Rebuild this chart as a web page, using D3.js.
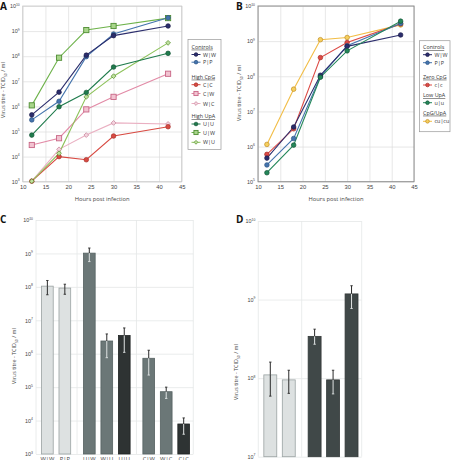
<!DOCTYPE html>
<html>
<head>
<meta charset="utf-8">
<script src="https://cdn.jsdelivr.net/npm/d3@7"></script>
<style>
  body { margin: 0; background: #fff; }
  svg { display: block; font-family: "Open Sans", "Liberation Sans", sans-serif; }
</style>
</head>
<body>
<div id="chart"></div>
<script>
// ---- data ----
var hours = [12, 18, 24, 30, 42];

// panel A
var aWW = [4.6e5, 3.7e6, 1.1e8, 6.6e8, 1.6e9];
var aPP = [2.9e5, 1.6e6, 9.6e7, 7.6e8, 3.4e9];
var aCC = [1.05e3, 1.0e4, 7.5e3, 6.6e4, 1.55e5];
var aCW = [2.9e4, 5.4e4, 7.6e5, 2.4e6, 2.0e7];
var aWC = [1.05e3, 1.95e4, 7.2e4, 2.2e5, 2.0e5];
var aUU = [7.2e4, 9.7e5, 3.6e6, 3.7e7, 1.3e8];
var aUW = [1.1e6, 8.7e7, 1.1e9, 1.6e9, 3.3e9];
var aWU = [1.05e3, 1.35e4, 2.4e6, 1.6e7, 3.4e8];

// panel B
var bWW = [4.7e5, 3.6e6, 1.07e8, 7.1e8, 1.5e9];
var bPP = [3.0e5, 1.7e6, 9.8e7, 7.4e8, 3.2e9];
var bcc = [6.0e5, 3.2e6, 3.4e8, 9.1e8, 3.1e9];
var buu = [1.8e5, 1.1e6, 9.4e7, 5.3e8, 3.7e9];
var bcucu = [1.15e6, 4.3e7, 1.1e9, 1.27e9, 2.9e9];

// panel C
var cLabels = ["W|W", "P|P", "U|W", "W|U", "U|U", "C|W", "W|C", "C|C"];
var cGroup = [0, 0, 1, 1, 1, 2, 2, 2];
var cKind = ["control", "control", "half", "half", "full", "half", "half", "full"];
var cMean = [1.05e8, 9.2e7, 1.02e9, 2.4e6, 3.5e6, 7.3e5, 7.3e4, 7.9e3];
var cHigh = [1.55e8, 1.2e8, 1.45e9, 3.9e6, 5.9e6, 1.27e6, 1.0e5, 1.2e4];
var cLow = [5.8e7, 6.0e7, 5.7e8, 7.6e5, 1.1e6, 2.3e5, 4.6e4, 3.9e3];

// panel D
var dLabels = ["W|W", "P|P", "c|c", "u|u", "cu|cu"];
var dGroup = [0, 0, 1, 1, 1];
var dKind = ["control", "control", "fullD", "fullD", "fullD"];
var dMean = [1.1e8, 9.5e7, 3.4e8, 9.5e7, 1.18e9];
var dHigh = [1.6e8, 1.26e8, 4.2e8, 1.26e8, 1.5e9];
var dLow = [5.9e7, 6.4e7, 2.7e8, 6.3e7, 7.7e8];

var yTitle = "Virus titre - TCID";

// ---- drawing ----
var svg = d3.select("#chart").append("svg")
  .attr("width", 456)
  .attr("height", 460);

function logLabels(g) {
  g.selectAll(".tick text").each(function (d) {
    var t = d3.select(this);
    t.text("10");
    t.append("tspan")
      .attr("dy", -2.6)
      .attr("font-size", 3.4)
      .text(Math.round(Math.log10(d)));
  });
}

function decades(lo, hi) {
  var out = [];
  for (var e = lo; e <= hi; e++) out.push(Math.pow(10, e));
  return out;
}

function yTitleText(x, y) {
  var t = svg.append("text")
    .attr("transform", "translate(" + x + "," + y + ") rotate(-90)")
    .attr("text-anchor", "middle")
    .attr("font-size", 5.4)
    .attr("fill", "#444")
    .text(yTitle);
  t.append("tspan").attr("font-size", 3.4).attr("dy", 1.5).text("50");
  t.append("tspan").attr("dy", -1.5).text(" / ml");
}

function panelLetter(txt, x, y) {
  svg.append("text")
    .attr("x", x).attr("y", y)
    .attr("font-size", 10)
    .attr("font-weight", "bold")
    .attr("fill", "#111")
    .text(txt);
}

// line panels (A, B)
function linePanel(opt) {
  var x = d3.scaleLinear().domain([10, 45]).range([opt.left, opt.right]);
  var y = d3.scaleLog().domain([Math.pow(10, opt.lo), Math.pow(10, opt.hi)]).range([opt.bottom, opt.top]);
  var w = opt.right - opt.left, h = opt.bottom - opt.top;

  var gx = svg.append("g")
    .attr("transform", "translate(0," + opt.bottom + ")")
    .call(d3.axisBottom(x).tickValues(d3.range(10, 46, 5)).tickSize(-h).tickPadding(3));
  gx.select(".domain").remove();
  gx.selectAll(".tick line").attr("stroke", "#dcdcdc").attr("stroke-width", 0.7);
  gx.selectAll(".tick text").attr("font-size", 5.8).attr("fill", "#444").attr("font-family", null);

  var gy = svg.append("g")
    .attr("transform", "translate(" + opt.left + ",0)")
    .call(d3.axisLeft(y).tickValues(decades(opt.lo, opt.hi)).tickSize(-w).tickPadding(3));
  gy.select(".domain").remove();
  gy.selectAll(".tick line").attr("stroke", "#dcdcdc").attr("stroke-width", 0.7);
  gy.selectAll(".tick text").attr("font-size", 5.4).attr("fill", "#444").attr("font-family", null);
  logLabels(gy);

  svg.append("rect")
    .attr("x", opt.left).attr("y", opt.top)
    .attr("width", w).attr("height", h)
    .attr("fill", "none")
    .attr("stroke", opt.frame)
    .attr("stroke-width", opt.frameWidth);

  svg.append("text")
    .attr("x", (opt.left + opt.right) / 2).attr("y", opt.bottom + 19.5)
    .attr("text-anchor", "middle")
    .attr("font-size", 5.8).attr("fill", "#444")
    .text("Hours post infection");

  var line = d3.line().x(function (d, i) { return x(hours[i]); }).y(function (d) { return y(d); });

  opt.series.forEach(function (s) {
    svg.append("path")
      .datum(s.values)
      .attr("d", line)
      .attr("fill", "none")
      .attr("stroke", s.color)
      .attr("stroke-width", 1.1);
  });
  opt.series.forEach(function (s) {
    var g = svg.append("g");
    s.values.forEach(function (v, i) {
      drawMarker(g, s, x(hours[i]), y(v), 1);
    });
  });

  // legend
  var lg = svg.append("g");
  lg.append("rect")
    .attr("x", opt.legend.x).attr("y", opt.legend.y)
    .attr("width", opt.legend.w).attr("height", opt.legend.h)
    .attr("fill", "#fff").attr("stroke", "#999").attr("stroke-width", 0.7);
  opt.legend.items.forEach(function (it) {
    if (it.header) {
      lg.append("text")
        .attr("x", opt.legend.x + 3.5).attr("y", it.y + 2)
        .attr("font-size", 5.4).attr("fill", "#333")
        .attr("text-decoration", "underline")
        .text(it.header);
    } else {
      var s = it.series;
      var lx = opt.legend.x + 3.5;
      lg.append("line")
        .attr("x1", lx).attr("x2", lx + 9)
        .attr("y1", it.y).attr("y2", it.y)
        .attr("stroke", s.color).attr("stroke-width", 1);
      drawMarker(lg, s, lx + 4.5, it.y, 0.8);
      lg.append("text")
        .attr("x", lx + 11.5).attr("y", it.y + 2)
        .attr("font-size", 5.4).attr("fill", "#333")
        .text(s.name);
    }
  });
}

function drawMarker(g, s, cx, cy, k) {
  if (s.shape === "square") {
    var r = 2.6 * k;
    g.append("rect")
      .attr("x", cx - r).attr("y", cy - r)
      .attr("width", 2 * r).attr("height", 2 * r)
      .attr("fill", s.fill).attr("stroke", s.stroke).attr("stroke-width", 0.9);
  } else if (s.shape === "diamond") {
    var r2 = 2.4 * k;
    g.append("path")
      .attr("d", "M" + cx + "," + (cy - r2) + "L" + (cx + r2) + "," + cy + "L" + cx + "," + (cy + r2) + "L" + (cx - r2) + "," + cy + "Z")
      .attr("fill", s.fill).attr("stroke", s.stroke).attr("stroke-width", 0.8);
  } else {
    g.append("circle")
      .attr("cx", cx).attr("cy", cy).attr("r", 2.3 * k)
      .attr("fill", s.fill).attr("stroke", s.stroke).attr("stroke-width", 0.7);
  }
}

// panel A
var sA = {
  WW: { name: "W|W", values: aWW, color: "#2b2d6c", fill: "#2b2d6c", stroke: "#1c1d4a", shape: "circle" },
  PP: { name: "P|P", values: aPP, color: "#4474ad", fill: "#4474ad", stroke: "#2f5685", shape: "circle" },
  CC: { name: "C|C", values: aCC, color: "#d84a42", fill: "#d84a42", stroke: "#a8312b", shape: "circle" },
  CW: { name: "C|W", values: aCW, color: "#e28aa6", fill: "#f2c3d1", stroke: "#c86585", shape: "square" },
  WC: { name: "W|C", values: aWC, color: "#eab0c2", fill: "#f4d3de", stroke: "#c98aa0", shape: "diamond" },
  UU: { name: "U|U", values: aUU, color: "#1f7b4c", fill: "#1f7b4c", stroke: "#145536", shape: "circle" },
  UW: { name: "U|W", values: aUW, color: "#6db24a", fill: "#a8d58a", stroke: "#4f8d33", shape: "square" },
  WU: { name: "W|U", values: aWU, color: "#8dc25a", fill: "#bfe09e", stroke: "#5f9637", shape: "diamond" }
};

linePanel({
  left: 22.7, right: 181.7, top: 6, bottom: 181.7, lo: 3, hi: 10,
  frame: "#c8c8c8", frameWidth: 0.8,
  series: [sA.WC, sA.CW, sA.CC, sA.WU, sA.UU, sA.UW, sA.PP, sA.WW],
  legend: {
    x: 188, y: 39.5, w: 33, h: 110,
    items: [
      { header: "Controls", y: 46.7 },
      { series: sA.WW, y: 54.5 },
      { series: sA.PP, y: 62.2 },
      { header: "High CpG", y: 76.7 },
      { series: sA.CC, y: 84.7 },
      { series: sA.CW, y: 93.5 },
      { series: sA.WC, y: 103.5 },
      { header: "High UpA", y: 116 },
      { series: sA.UU, y: 124 },
      { series: sA.UW, y: 132.5 },
      { series: sA.WU, y: 142.3 }
    ]
  }
});

// panel B
var sB = {
  WW: { name: "W|W", values: bWW, color: "#2b2d6c", fill: "#2b2d6c", stroke: "#1c1d4a", shape: "circle" },
  PP: { name: "P|P", values: bPP, color: "#4474ad", fill: "#4474ad", stroke: "#2f5685", shape: "circle" },
  cc: { name: "c|c", values: bcc, color: "#dc4a45", fill: "#dc4a45", stroke: "#a8312b", shape: "circle" },
  uu: { name: "u|u", values: buu, color: "#24875a", fill: "#24875a", stroke: "#145536", shape: "circle" },
  cucu: { name: "cu|cu", values: bcucu, color: "#f2bd45", fill: "#f5cf5e", stroke: "#c08d24", shape: "circle" }
};

linePanel({
  left: 258, right: 414, top: 6, bottom: 181.7, lo: 5, hi: 10,
  frame: "#8c8c8c", frameWidth: 1,
  series: [sB.cucu, sB.cc, sB.PP, sB.WW, sB.uu],
  legend: {
    x: 419.5, y: 40.7, w: 30.5, h: 91,
    items: [
      { header: "Controls", y: 47 },
      { series: sB.WW, y: 54.7 },
      { series: sB.PP, y: 62.7 },
      { header: "Zero CpG", y: 76.7 },
      { series: sB.cc, y: 85 },
      { header: "Low UpA", y: 95 },
      { series: sB.uu, y: 102.7 },
      { header: "CpG/UpA", y: 112.7 },
      { series: sB.cucu, y: 121.3 }
    ]
  }
});

// bar panels (C, D)
var kindFill = { control: "#dde1e1", half: "#6b7777", full: "#2e3333", fullD: "#404848" };
var kindStroke = { control: "#9aa2a2", half: "#566262", full: "#202424", fullD: "#323838" };

function barPanel(opt) {
  var n = opt.labels.length;
  var slot = opt.labels.map(function (d, i) { return i + opt.group[i] * 0.4; });
  var x = d3.scaleLinear().domain([-0.65, slot[n - 1] + 0.55]).range([opt.left, opt.right]);
  var y = d3.scaleLog().domain([Math.pow(10, opt.lo), Math.pow(10, opt.hi)]).range([opt.bottom, opt.top]);
  var w = opt.right - opt.left, h = opt.bottom - opt.top;
  var bw = (x(1) - x(0)) * opt.barFrac;

  var gy = svg.append("g")
    .attr("transform", "translate(" + opt.left + ",0)")
    .call(d3.axisLeft(y).tickValues(decades(opt.lo, opt.hi)).tickSize(-w).tickPadding(3));
  gy.select(".domain").remove();
  gy.selectAll(".tick line").attr("stroke", "#e4e7e7").attr("stroke-width", 0.8);
  gy.selectAll(".tick text").attr("font-size", 5.4).attr("fill", "#444").attr("font-family", null);
  logLabels(gy);

  // group separators and frame sides
  var seps = [opt.left, opt.right];
  for (var i = 1; i < n; i++) {
    if (opt.group[i] !== opt.group[i - 1]) seps.push(x((slot[i] + slot[i - 1]) / 2));
  }
  svg.append("g").selectAll("line")
    .data(seps)
    .enter()
    .append("line")
    .attr("x1", function (d) { return d; }).attr("x2", function (d) { return d; })
    .attr("y1", opt.top).attr("y2", opt.bottom)
    .attr("stroke", "#e4e7e7").attr("stroke-width", 0.8);

  svg.append("g").selectAll("rect")
    .data(opt.mean)
    .enter()
    .append("rect")
    .attr("x", function (d, i) { return x(slot[i]) - bw / 2; })
    .attr("y", function (d) { return y(d); })
    .attr("width", bw)
    .attr("height", function (d) { return opt.bottom - y(d); })
    .attr("fill", function (d, i) { return kindFill[opt.kind[i]]; })
    .attr("stroke", function (d, i) { return kindStroke[opt.kind[i]]; })
    .attr("stroke-width", 0.8);

  // error bars: dark above the bar, light inside dark bars
  var eg = svg.append("g");
  opt.mean.forEach(function (m, i) {
    var cx = x(slot[i]);
    var inner = opt.kind[i] === "control" ? "#2a2a2a" : "#dfe3e3";
    eg.append("line")
      .attr("x1", cx).attr("x2", cx)
      .attr("y1", y(opt.high[i])).attr("y2", y(m))
      .attr("stroke", "#2a2a2a").attr("stroke-width", 1);
    eg.append("line")
      .attr("x1", cx).attr("x2", cx)
      .attr("y1", y(m)).attr("y2", y(opt.low[i]))
      .attr("stroke", inner).attr("stroke-width", 1);
    eg.append("line")
      .attr("x1", cx - 1.2).attr("x2", cx + 1.2)
      .attr("y1", y(opt.high[i])).attr("y2", y(opt.high[i]))
      .attr("stroke", "#2a2a2a").attr("stroke-width", 0.9);
    eg.append("line")
      .attr("x1", cx - 1.2).attr("x2", cx + 1.2)
      .attr("y1", y(opt.low[i])).attr("y2", y(opt.low[i]))
      .attr("stroke", inner).attr("stroke-width", 0.9);
  });

  svg.append("g").selectAll("text")
    .data(opt.labels)
    .enter()
    .append("text")
    .attr("x", function (d, i) { return x(slot[i]); })
    .attr("y", opt.labelY)
    .attr("text-anchor", "middle")
    .attr("font-size", 5.8)
    .attr("fill", "#444")
    .text(function (d) { return d; });
}

barPanel({
  labels: cLabels, group: cGroup, kind: cKind, mean: cMean, high: cHigh, low: cLow,
  left: 36, right: 193.3, top: 220, bottom: 454, lo: 3, hi: 10, barFrac: 0.67, labelY: 461.2
});

barPanel({
  labels: dLabels, group: dGroup, kind: dKind, mean: dMean, high: dHigh, low: dLow,
  left: 258.3, right: 361.7, top: 221, bottom: 456.7, lo: 7, hi: 10, barFrac: 0.7, labelY: 463.6
});

yTitleText(5, 90);
yTitleText(241, 93);
yTitleText(16, 356);
yTitleText(238, 372);

panelLetter("A", 0, 10);
panelLetter("B", 236, 10);
panelLetter("C", 0, 223);
panelLetter("D", 236, 223);
</script>
</body>
</html>
